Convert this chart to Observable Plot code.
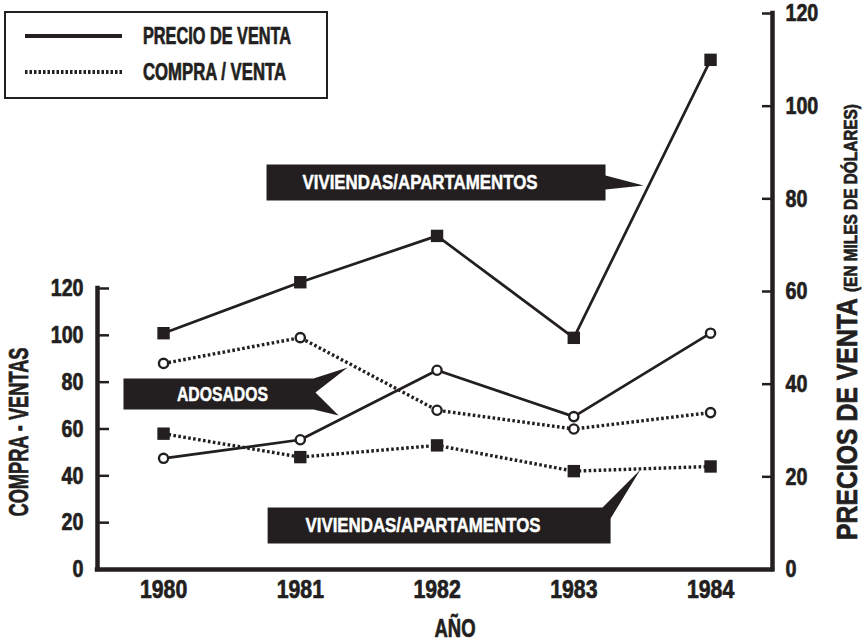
<!DOCTYPE html>
<html><head><meta charset="utf-8">
<script src="https://cdn.jsdelivr.net/npm/d3@7"></script>
<script src="https://cdn.jsdelivr.net/npm/@observablehq/plot@0.6"></script>
<style>
html,body{margin:0;padding:0;background:#fff;}
#chart{width:865px;height:644px;}
</style></head><body><div id="chart"></div>
<script>
// ---- data ----
const years = [1980, 1981, 1982, 1983, 1984];
const precioViviendas = [51, 62, 72, 50, 110];   // solid, squares (right axis)
const precioAdosados = [24, 28, 43, 33, 51];      // solid, circles (right axis)
const compraViviendas = [58, 48, 53, 42, 44];     // dotted, squares (left axis)
const compraAdosados = [88, 99, 68, 60, 67];      // dotted, circles (left axis)
const leftTicks = [0, 20, 40, 60, 80, 100, 120];
const rightTicks = [0, 20, 40, 60, 80, 100, 120];
const legendLabels = ["PRECIO DE VENTA", "COMPRA / VENTA"];
const annotationLabels = ["VIVIENDAS/APARTAMENTOS", "ADOSADOS", "VIVIENDAS/APARTAMENTOS"];
const xTitle = "AÑO";
const leftTitle = "COMPRA - VENTAS";
const rightTitle = "PRECIOS DE VENTA";
const rightSubtitle = "(EN MILES DE DÓLARES)";

// ---- styling ----
const INK = "#231f20";
const FONT = "'Liberation Sans', Arial, sans-serif";
const xDomain = [1979.517, 1984.453];

// left axis (compra-venta) expressed in units of the right (price) scale
const cv = d3.scaleLinear([0, 120], [0, 60.65]);

const series = [
  {name: "pv", values: precioViviendas, conv: d => d, dotted: false, square: true},
  {name: "pa", values: precioAdosados, conv: d => d, dotted: false, square: false},
  {name: "cv", values: compraViviendas, conv: cv, dotted: true, square: true},
  {name: "ca", values: compraAdosados, conv: cv, dotted: true, square: false}
];
const rows = series.flatMap(s => years.map((yr, i) => ({
  series: s.name, year: yr, y: s.conv(s.values[i]), dotted: s.dotted, square: s.square
})));

// annotation callout shapes in data units (year, price)
const annoShapes = [
  [[1980.753,87.41],[1983.232,87.41],[1983.232,85.04],[1983.510,82.88],[1983.232,82.02],[1983.232,79.64],[1980.753,79.64]],
  [[1979.707,41.22],[1981.097,41.22],[1981.346,43.60],[1981.111,38.20],[1981.280,33.24],[1981.097,34.53],[1979.707,34.53]],
  [[1980.761,13.38],[1983.210,13.38],[1983.488,21.58],[1983.269,11.01],[1983.269,5.61],[1980.761,5.61]]
].flatMap((pts, k) => pts.map(([x, y]) => ({k, x, y})));
const annoStart = [
  {label: annotationLabels[0], x: 1981.016, y: 83.53},
  {label: annotationLabels[2], x: 1981.038, y: 9.50}
];
const annoMiddle = [
  {label: annotationLabels[1], x: 1980.431, y: 37.77}
];

const chart = Plot.plot({
  width: 865, height: 644,
  marginLeft: 97, marginRight: 93, marginTop: 13, marginBottom: 75,
  x: {domain: xDomain, label: null},
  y: {domain: [0, 120], label: null},
  style: {fontFamily: FONT, fontWeight: "bold", color: INK, background: "white", overflow: "visible"},
  marks: [
    // annotation callouts
    Plot.line(annoShapes, {x: "x", y: "y", z: "k", fill: INK, stroke: "none"}),
    Plot.text(annoStart, {x: "x", y: "y", text: "label", textAnchor: "start", fill: "white", fontSize: 21, fontWeight: "bold"}),
    Plot.text(annoMiddle, {x: "x", y: "y", text: "label", textAnchor: "middle", fill: "white", fontSize: 21, fontWeight: "bold"}),
    // series lines
    Plot.line(rows.filter(d => !d.dotted), {x: "year", y: "y", z: "series", stroke: INK, strokeWidth: 2.7}),
    Plot.line(rows.filter(d => d.dotted), {x: "year", y: "y", z: "series", stroke: INK, strokeWidth: 3.4, strokeDasharray: "2.6,2.4", strokeLinecap: "butt", strokeLinejoin: "miter"}),
    Plot.dot(rows.filter(d => d.square), {x: "year", y: "y", symbol: "square", r: 7, fill: INK}),
    Plot.dot(rows.filter(d => !d.square), {x: "year", y: "y", r: 4.6, fill: "white", stroke: INK, strokeWidth: 2.4}),
    // axes: labels
    Plot.axisX(years, {tickSize: 0, tickPadding: 11, tickFormat: d => String(d), fontSize: 25, label: null}),
    Plot.axisY(leftTicks.map(cv), {anchor: "left", tickSize: 0, tickPadding: 14, tickFormat: d => String(Math.round(cv.invert(d))), fontSize: 24, label: null}),
    Plot.axisY(rightTicks, {anchor: "right", tickSize: 0, tickPadding: 13, fontSize: 24, label: null}),
    // axes: inward tick marks
    Plot.axisY(leftTicks.map(cv), {anchor: "left", tickSize: -12, strokeWidth: 2.5, stroke: INK, tickFormat: () => "", label: null}),
    Plot.axisY(rightTicks, {anchor: "right", tickSize: -11, strokeWidth: 2.5, stroke: INK, tickFormat: () => "", label: null}),
    // axis lines
    Plot.ruleY([0], {stroke: INK, strokeWidth: 4.5, strokeLinecap: "square"}),
    Plot.ruleX([xDomain[0]], {x: d => d, y1: () => 0, y2: () => cv(120), stroke: INK, strokeWidth: 4.5, strokeLinecap: "square"}),
    Plot.ruleX([xDomain[1]], {x: d => d, y1: () => 0, y2: () => 120, stroke: INK, strokeWidth: 4.5, strokeLinecap: "square"})
  ]
});
document.getElementById("chart").appendChild(chart);

// ---- titles and legend ----
const svg = d3.select(chart);
const tfont = (sel, size) => sel.attr("font-family", FONT).attr("font-weight", "bold").attr("fill", INK).attr("font-size", size);

svg.append("text").call(tfont, 25).attr("data-w", 41)
  .attr("x", 455).attr("y", 637).attr("text-anchor", "middle").text(xTitle);
svg.append("text").call(tfont, 27).attr("data-w", 169)
  .attr("transform", "translate(28,432) rotate(-90)").attr("text-anchor", "middle").text(leftTitle);
svg.append("text").call(tfont, 29).attr("data-w", 242)
  .attr("transform", "translate(857,540) rotate(-90)").attr("text-anchor", "start").text(rightTitle);
svg.append("text").call(tfont, 19).attr("data-w", 188)
  .attr("transform", "translate(857,292) rotate(-90)").attr("text-anchor", "start").text(rightSubtitle);

const lg = svg.append("g");
lg.append("rect").attr("x", 5).attr("y", 12).attr("width", 322).attr("height", 86)
  .attr("fill", "white").attr("stroke", INK).attr("stroke-width", 2);
const legendWidths = [148, 143];
legendLabels.forEach((lab, i) => {
  const y = 36 + i * 36;
  lg.append("line").attr("x1", 25).attr("x2", 122).attr("y1", y).attr("y2", y)
    .attr("stroke", INK).attr("stroke-width", 4)
    .attr("stroke-dasharray", i === 1 ? "2.5,2" : null);
  lg.append("text").call(tfont, 23).attr("data-w", legendWidths[i])
    .attr("x", 143).attr("y", y + 8.3).attr("text-anchor", "start").text(lab);
});

// ---- condense and embolden all text (emulates a heavy condensed face) ----
const labelWidths = {"VIVIENDAS/APARTAMENTOS": 235, "ADOSADOS": 91};
chart.querySelectorAll("text").forEach(t => {
  if (t.querySelector("tspan")) return;
  const s = t.textContent.trim();
  if (!s) return;
  const len = t.getComputedTextLength();
  const target = t.dataset.w ? +t.dataset.w
    : labelWidths[s] ? labelWidths[s]
    : len * (/^\d{4}$/.test(s) ? 0.85 : /^\d+$/.test(s) ? 0.82 : 0.77);
  t.setAttribute("textLength", target.toFixed(1));
  t.setAttribute("lengthAdjust", "spacingAndGlyphs");
  const white = labelWidths[s] !== undefined;
  t.setAttribute("stroke", white ? "white" : INK);
  t.setAttribute("stroke-width", white ? 0.5 : 0.7);
  t.setAttribute("stroke-linejoin", "round");
});
</script>
</body></html>
